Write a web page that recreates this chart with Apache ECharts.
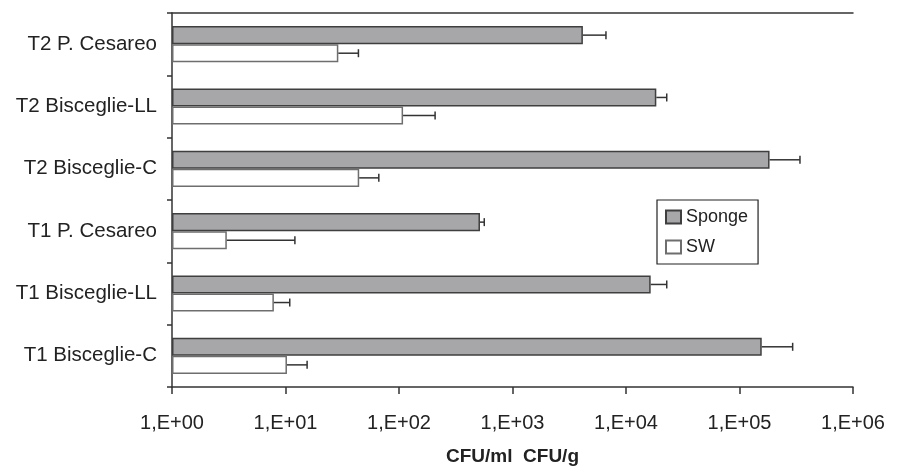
<!DOCTYPE html>
<html>
<head>
<meta charset="utf-8">
<script src="https://cdn.jsdelivr.net/npm/echarts@6/dist/echarts.min.js"></script>
<style>html,body{margin:0;padding:0;background:#fff}#c{width:898px;height:471px}</style>
</head>
<body>
<div id="c"></div>
<script>
const categories = ['T1 Bisceglie-C','T1 Bisceglie-LL','T1 P. Cesareo','T2 Bisceglie-C','T2 Bisceglie-LL','T2 P. Cesareo'];
const spongeValues = [157000, 16500, 517, 184000, 18500, 4170];
const spongeUpper = [294000, 22850, 564, 341000, 22850, 6660];
const swValues = [10.3, 7.9, 3.04, 44.6, 108.6, 29.2];
const swUpper = [15.5, 10.9, 12.1, 66.4, 208, 43.9];
const tickLabels = ['1,E+00','1,E+01','1,E+02','1,E+03','1,E+04','1,E+05','1,E+06'];
const xName = 'CFU/ml  CFU/g';

const FONT = 'Liberation Sans, Arial, sans-serif';
const GAP = 0.42;

function errSeries(name, vals, upper, sideSign) {
  return {
    type: 'custom',
    name: name + ' err',
    xAxisIndex: 0, yAxisIndex: 0,
    silent: true,
    z: 5,
    data: categories.map((c, i) => [i, vals[i], upper[i]]),
    encode: { y: 0, x: [1, 2] },
    renderItem: function (params, api) {
      const cat = api.value(0);
      const p0 = api.coord([api.value(1), cat]);
      const p1 = api.coord([api.value(2), cat]);
      const band = api.size([0, 1])[1];
      const barH = band * (1 - GAP) / 2;
      const y = p0[1] + sideSign * barH / 2;
      const capH = 8;
      return {
        type: 'group',
        children: [
          { type: 'line', shape: { x1: p0[0], y1: y, x2: p1[0], y2: y }, style: { stroke: '#333', lineWidth: 1.5 } },
          { type: 'line', shape: { x1: p1[0], y1: y - capH / 2, x2: p1[0], y2: y + capH / 2 }, style: { stroke: '#333', lineWidth: 1.5 } }
        ]
      };
    }
  };
}

const chart = echarts.init(document.getElementById('c'), null, { renderer: 'canvas' });
chart.setOption({
  animation: false,
  backgroundColor: '#fff',
  textStyle: { fontFamily: FONT },
  grid: { left: 172, right: 45, top: 13, bottom: 74, containLabel: false },
  legend: {
    orient: 'vertical',
    left: 657, top: 200,
    data: ['Sponge', 'SW'],
    selectedMode: false,
    icon: 'rect',
    itemWidth: 15, itemHeight: 13, itemGap: 12,
    padding: [8, 10, 8, 8],
    borderColor: '#222', borderWidth: 1.2, borderRadius: 0,
    textStyle: { fontSize: 18, lineHeight: 14, color: '#222', fontFamily: FONT }
  },
  xAxis: [{
    type: 'log', logBase: 10, min: 1, max: 1000000,
    position: 'bottom',
    name: xName, nameLocation: 'middle', nameGap: 60,
    nameTextStyle: { fontSize: 19, fontWeight: 'bold', color: '#222', fontFamily: FONT },
    axisLine: { show: true, lineStyle: { color: '#333', width: 1.5 } },
    axisTick: { show: true, length: 7, inside: false, lineStyle: { color: '#333', width: 1.5 } },
    axisLabel: {
      margin: 26, fontSize: 20, color: '#222', fontFamily: FONT,
      formatter: function (v) { const e = Math.round(Math.log10(v)); return tickLabels[e]; }
    },
    splitLine: { show: false }, minorTick: { show: false }
  }, {
    type: 'value', min: 0, max: 1, position: 'top',
    axisLine: { show: true, lineStyle: { color: '#333', width: 1.5 } },
    axisTick: { show: false }, axisLabel: { show: false }, splitLine: { show: false }
  }],
  yAxis: {
    type: 'category', data: categories,
    axisLine: { show: true, lineStyle: { color: '#333', width: 1.5 } },
    axisTick: { show: true, length: 5, lineStyle: { color: '#333', width: 1.5 } },
    axisLabel: { margin: 15, fontSize: 20.5, color: '#222', fontFamily: FONT },
    splitLine: { show: false }
  },
  series: [
    {
      name: 'Sponge', type: 'bar', data: spongeValues,
      barGap: 0, barCategoryGap: (GAP * 100) + '%',
      itemStyle: { color: '#a7a7aa', borderColor: '#3f3f3f', borderWidth: 1.5 }
    },
    {
      name: 'SW', type: 'bar', data: swValues,
      barGap: 0, barCategoryGap: (GAP * 100) + '%',
      itemStyle: { color: '#ffffff', borderColor: '#6e6e6e', borderWidth: 1.5 }
    },
    errSeries('Sponge', spongeValues, spongeUpper, -1),
    errSeries('SW', swValues, swUpper, 1)
  ]
});
</script>
</body>
</html>
